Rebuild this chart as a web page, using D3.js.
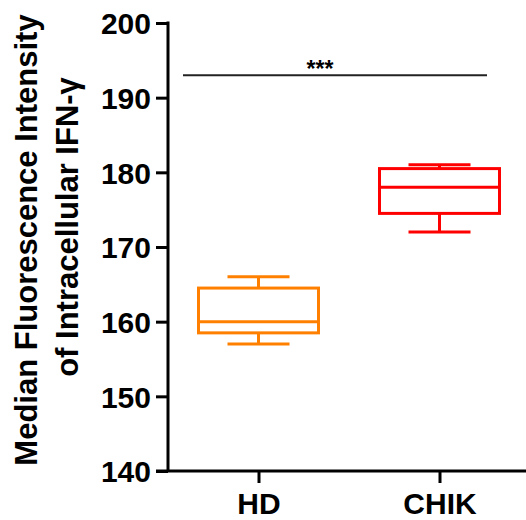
<!DOCTYPE html>
<html>
<head>
<meta charset="utf-8">
<script src="https://cdn.jsdelivr.net/npm/d3@7"></script>
<style>
  html, body { margin: 0; padding: 0; background: #fff; }
  svg { display: block; }
  text { font-family: Arial, "Liberation Sans", sans-serif; font-weight: bold; fill: #000; }
</style>
</head>
<body>
<svg id="chart" width="526" height="520"></svg>
<script>
// Groups and their five-number summaries (whisker low, Q1, median, Q3, whisker high)
const categories = ["HD", "CHIK"];
const whiskerLow = [157, 172];
const q1 = [158.5, 174.5];
const median = [160, 178];
const q3 = [164.5, 180.5];
const whiskerHigh = [166, 181];
const colors = ["#FF8000", "#FF0000"];

const yTicks = [140, 150, 160, 170, 180, 190, 200];
const yDomain = [140, 200];
const significance = { label: "***", level: 193 };

const svg = d3.select("#chart");

const x = d3.scalePoint().domain(categories).range([168, 530]).padding(0.5);
const y = d3.scaleLinear().domain(yDomain).range([471, 23]);

const boxW = 120, capW = 62, lw = 3;

// Y axis
const yAxis = svg.append("g")
  .attr("transform", "translate(168,0)")
  .call(d3.axisLeft(y).tickValues(yTicks).tickSize(12).tickSizeOuter(0).tickPadding(5));
yAxis.select(".domain").attr("stroke", "#000").attr("stroke-width", lw)
  .attr("d", `M0,${y(yDomain[1]) - 1.5}V${y(yDomain[0])}`);
yAxis.selectAll(".tick line").attr("stroke", "#000").attr("stroke-width", lw);
yAxis.selectAll(".tick text").style("font-size", "30px").attr("dy", "0.36em");

// X axis
const xAxis = svg.append("g")
  .attr("transform", `translate(0,${y(yDomain[0])})`)
  .call(d3.axisBottom(x).tickSize(12).tickSizeOuter(0).tickPadding(8));
xAxis.select(".domain").attr("stroke", "#000").attr("stroke-width", lw)
  .attr("d", "M156,0H526");
xAxis.selectAll(".tick line").attr("stroke", "#000").attr("stroke-width", lw);
xAxis.selectAll(".tick text").style("font-size", "30px").attr("dy", "0.75em");

// Box plots
const boxes = svg.append("g").selectAll("g").data(categories).join("g")
  .attr("fill", "none")
  .attr("stroke", (d, i) => colors[i])
  .attr("stroke-width", lw);

boxes.each(function (d, i) {
  const g = d3.select(this);
  const cx = x(d);
  // whiskers
  g.append("line").attr("x1", cx).attr("x2", cx).attr("y1", y(whiskerHigh[i])).attr("y2", y(q3[i]));
  g.append("line").attr("x1", cx).attr("x2", cx).attr("y1", y(q1[i])).attr("y2", y(whiskerLow[i]));
  g.append("line").attr("x1", cx - capW / 2).attr("x2", cx + capW / 2).attr("y1", y(whiskerHigh[i])).attr("y2", y(whiskerHigh[i]));
  g.append("line").attr("x1", cx - capW / 2).attr("x2", cx + capW / 2).attr("y1", y(whiskerLow[i])).attr("y2", y(whiskerLow[i]));
  // box
  g.append("rect").attr("x", cx - boxW / 2).attr("width", boxW)
    .attr("y", y(q3[i])).attr("height", y(q1[i]) - y(q3[i]));
  // median
  g.append("line").attr("x1", cx - boxW / 2).attr("x2", cx + boxW / 2).attr("y1", y(median[i])).attr("y2", y(median[i]));
});

// Significance bar between groups
const sigY = y(significance.level);
svg.append("line")
  .attr("x1", 183).attr("x2", 487)
  .attr("y1", sigY).attr("y2", sigY)
  .attr("stroke", "#222").attr("stroke-width", 2);
svg.append("text")
  .attr("x", 320).attr("y", sigY + 2)
  .attr("text-anchor", "middle")
  .style("font-size", "23px")
  .text(significance.label);

// Y axis title (two lines)
svg.append("text")
  .attr("transform", "translate(37,240) rotate(-90)")
  .attr("text-anchor", "middle")
  .style("font-size", "31px")
  .text("Median Fluorescence Intensity");
svg.append("text")
  .attr("transform", "translate(78,227) rotate(-90)")
  .attr("text-anchor", "middle")
  .style("font-size", "31px")
  .text("of Intracellular IFN-γ");
</script>
</body>
</html>
